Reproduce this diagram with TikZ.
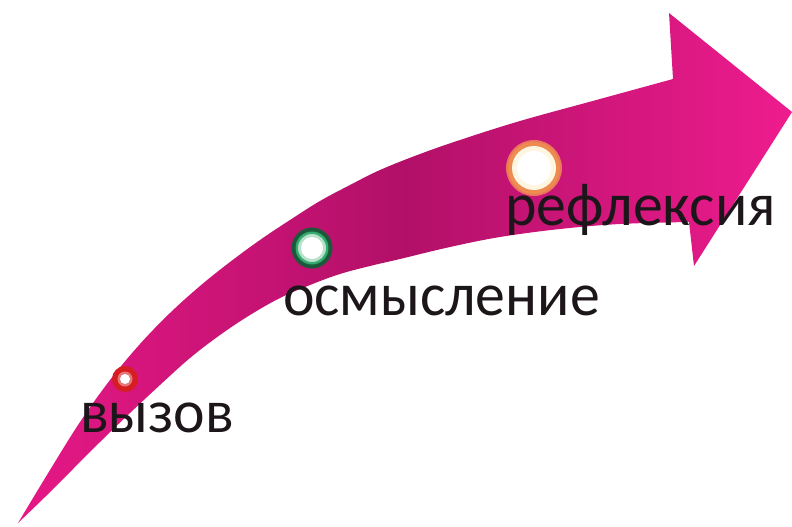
\documentclass[tikz,border=0pt]{standalone}
\usepackage{fontspec}
\setmainfont{Carlito}
\definecolor{pinkbright}{RGB}{238,28,142}
\definecolor{pinktail}{RGB}{230,24,134}
\definecolor{pinkdark}{RGB}{178,16,104}
\definecolor{redring}{RGB}{214,30,34}
\definecolor{greendark}{RGB}{28,88,58}
\definecolor{greenmid}{RGB}{52,170,110}
\definecolor{orangering}{RGB}{236,140,80}
\definecolor{cream}{RGB}{255,246,225}
\definecolor{textcol}{RGB}{28,22,26}
\begin{document}
\begin{tikzpicture}[x=1pt,y=-1pt,
  lbl/.style={anchor=base west, inner sep=0pt, font=\fontsize{61}{61}\selectfont, text=textcol, xscale=0.98}]
\useasboundingbox (0,0) rectangle (792,527);
% curved arrow
\shade[left color=pinktail, right color=pinkbright, middle color=pinkdark]
  (18,523) -- plot[smooth, tension=0.6] coordinates {(18,523) (50,470) (80,422) (110,380) (140,344) (170,313) (200,286) (230,262) (260,240) (290,220) (320,201) (350,185) (380,170) (420,154) (460,140) (520,121) (600,99) (673,79)}
  -- (669,13) -- (792,112) -- (694,266) -- (689,222)
  -- plot[smooth, tension=0.6] coordinates {(689,222) (620,224) (560,229) (500,237) (450,247) (400,259) (370,266) (340,274) (310,285) (280,298) (250,315) (220,335) (190,358) (160,385) (130,413) (100,442) (70,472) (45,497) (18,523)}
  -- cycle;
% red marker
\coordinate (cr) at (125,379);
\fill[redring] (cr) circle (13);
\fill[redring!60!white] (cr) circle (7.5);
\fill[white] (cr) circle (5);
% green marker
\coordinate (cg) at (312,248);
\fill[greendark] (cg) circle (20.5);
\fill[greenmid] (cg) circle (16.5);
\fill[greenmid!35!white] (cg) circle (14);
\fill[white] (cg) circle (11);
% orange marker
\coordinate (co) at (534,168);
\fill[orangering!80!pinkbright] (co) circle (28);
\fill[orangering] (co) circle (26);
\fill[cream] (co) circle (22);
\fill[white] (co) circle (17);
% labels
\node[lbl] (t1) at (80,432) {вызов};
\node[lbl] (t2) at (283,315) {осмысление};
\node[lbl] (t3) at (505,225) {рефлексия};
\end{tikzpicture}
\end{document}
